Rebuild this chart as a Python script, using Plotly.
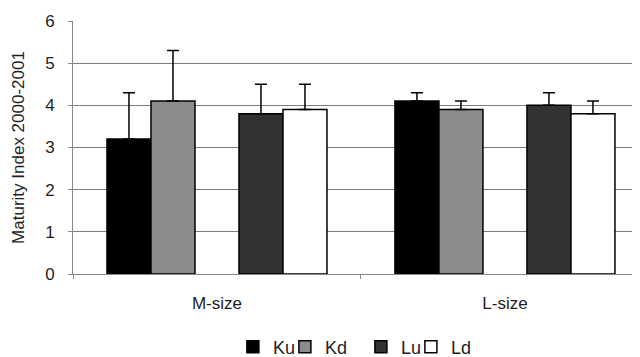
import plotly.graph_objects as go

categories = ["M-size", "L-size"]
series_names = ["Ku", "Kd", "Lu", "Ld"]
ku = [3.2, 4.1]
kd = [4.1, 3.9]
lu = [3.8, 4.0]
ld = [3.9, 3.8]
ku_err = [1.1, 0.2]
kd_err = [1.2, 0.2]
lu_err = [0.7, 0.3]
ld_err = [0.6, 0.3]
y_ticks = [0, 1, 2, 3, 4, 5, 6]

colors = {"Ku": "#000000", "Kd": "#8c8c8c", "Lu": "#323232", "Ld": "#ffffff"}
legend_widths = {"Ku": 7, "Kd": 31, "Lu": 5, "Ld": 30}

fig = go.Figure()

def add_bar(name, vals, errs):
    fig.add_trace(go.Bar(
        x=categories, y=vals, name=name,
        legendwidth=legend_widths[name],
        marker=dict(color=colors[name], line=dict(color="#000000", width=1.5)),
        error_y=dict(type="data", array=errs, symmetric=False, arrayminus=[0, 0],
                     color="#000000", thickness=1.5, width=6),
    ))

add_bar("Ku", ku, ku_err)
add_bar("Kd", kd, kd_err)
# empty spacer series producing the gap between the K and L pairs
fig.add_trace(go.Bar(x=categories, y=[None, None], name=" ", showlegend=False,
                     marker=dict(color="rgba(0,0,0,0)", line=dict(width=0)),
                     hoverinfo="skip"))
add_bar("Lu", lu, lu_err)
add_bar("Ld", ld, ld_err)

# page body has an 8px default margin, so the figure is sized to fit the window
fig.update_layout(
    width=632, height=349,
    margin=dict(l=65, r=0, t=13, b=83, autoexpand=False),
    paper_bgcolor="white", plot_bgcolor="white",
    barmode="group", bargap=0.236, bargroupgap=0,
    font=dict(family="Liberation Sans, Arial, sans-serif", size=17, color="#1e1e1e"),
    showlegend=True,
    legend=dict(orientation="h", x=0.282, xanchor="left", y=-0.289, yanchor="middle",
                font=dict(size=18), itemwidth=30, tracegroupgap=0,
                traceorder="normal", bgcolor="rgba(0,0,0,0)"),
)
fig.update_xaxes(
    type="category", range=[-0.5, 1.469],
    showline=True, linecolor="#888888", linewidth=1,
    ticks="outside", tickson="boundaries", ticklen=4, tickcolor="#888888",
    showgrid=False, tickfont=dict(size=17), ticklabelstandoff=14,
)
fig.update_yaxes(
    range=[0, 6], tickvals=y_ticks,
    showline=True, linecolor="#888888", linewidth=1,
    ticks="outside", ticklen=4, tickcolor="#888888",
    showgrid=True, gridcolor="#7e7e7e", gridwidth=1,
    title=dict(text="Maturity Index 2000-2001", font=dict(size=17), standoff=16),
    tickfont=dict(size=17), zeroline=False, ticklabelstandoff=10,
)

fig.write_html("out.html")
